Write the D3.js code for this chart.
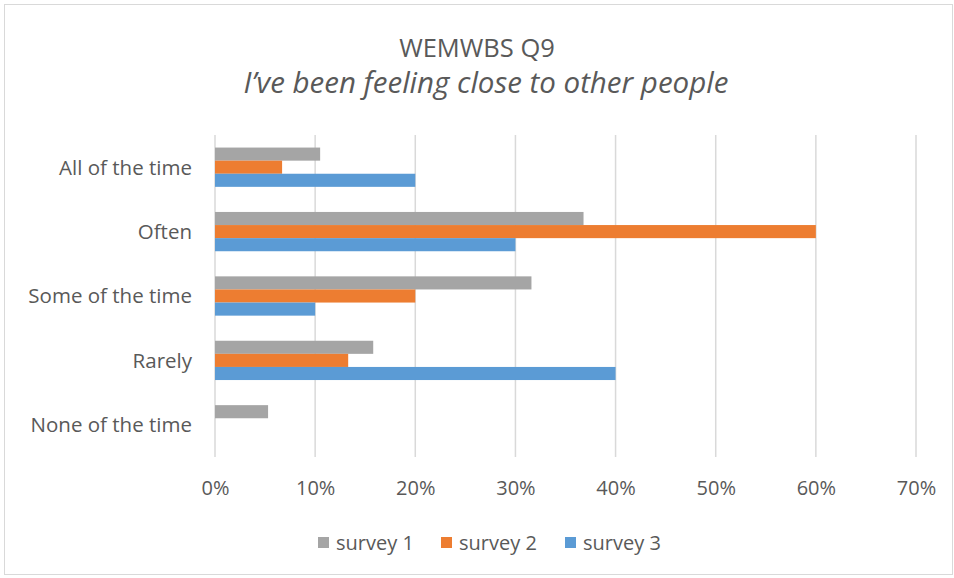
<!DOCTYPE html>
<html>
<head>
<meta charset="utf-8">
<script src="https://cdn.jsdelivr.net/npm/d3@7"></script>
<style>
  html, body { margin: 0; padding: 0; background: #fff; }
  svg { display: block; font-family: "Open Sans", Lato, sans-serif; }
</style>
</head>
<body>
<svg id="chart" width="954" height="578"></svg>
<script>
// Response categories, top to bottom
const categories = ["All of the time", "Often", "Some of the time", "Rarely", "None of the time"];
const seriesNames = ["survey 1", "survey 2", "survey 3"];
const seriesColors = ["#A5A5A5", "#ED7D31", "#5B9BD5"];
// Share of responses per category (%)
const survey1 = [10.5, 36.8, 31.6, 15.8, 5.3];
const survey2 = [6.7, 60.0, 20.0, 13.3, 0];
const survey3 = [20.0, 30.0, 10.0, 40.0, 0];
const tickValues = [0, 10, 20, 30, 40, 50, 60, 70];

const seriesValues = [survey1, survey2, survey3];
const W = 954, H = 578;
const svg = d3.select("#chart");
const textColor = "#595959";
const font = "'Open Sans', Lato, sans-serif";

// outer frame
svg.append("rect")
  .attr("x", 4.5).attr("y", 4.5)
  .attr("width", W - 6).attr("height", H - 8)
  .attr("fill", "#fff").attr("stroke", "#d9d9d9").attr("stroke-width", 1);

// titles
svg.append("text")
  .attr("x", 477).attr("y", 57)
  .attr("text-anchor", "middle")
  .attr("fill", textColor).attr("font-size", 25.5)
  .text("WEMWBS Q9");
svg.append("text")
  .attr("x", 486).attr("y", 93)
  .attr("text-anchor", "middle")
  .attr("fill", textColor).attr("font-size", 29.5)
  .attr("font-style", "italic")
  .text("I\u2019ve been feeling close to other people");

const margin = { left: 215, right: 38, top: 135, bottom: 121 };
const x = d3.scaleLinear().domain([0, 70]).range([margin.left, W - margin.right]);
const y = d3.scaleBand().domain(categories).range([margin.top, H - margin.bottom]).paddingInner(0.39).paddingOuter(0.195);
const ySub = d3.scaleBand().domain(seriesNames).range([0, y.bandwidth()]);

// vertical gridlines
svg.append("g")
  .selectAll("line")
  .data(tickValues)
  .join("line")
  .attr("x1", d => x(d)).attr("x2", d => x(d))
  .attr("y1", margin.top).attr("y2", H - margin.bottom)
  .attr("stroke", "#d9d9d9").attr("stroke-width", 1.5);

// bars
const groups = svg.append("g")
  .selectAll("g")
  .data(categories)
  .join("g")
  .attr("transform", d => `translate(0,${y(d)})`);

groups.selectAll("rect")
  .data((c, i) => seriesNames.map((s, j) => ({ s, j, v: seriesValues[j][i] })))
  .join("rect")
  .attr("x", x(0))
  .attr("y", d => ySub(d.s))
  .attr("width", d => x(d.v) - x(0))
  .attr("height", ySub.bandwidth())
  .attr("fill", d => seriesColors[d.j]);

// category axis labels
const yAxis = d3.axisLeft(y).tickSize(0).tickPadding(23);
const yg = svg.append("g").attr("transform", `translate(${margin.left},0)`).call(yAxis);
yg.select(".domain").remove();
yg.selectAll("text").attr("fill", textColor).attr("font-size", 20.5)
  .attr("font-family", font).attr("dy", "0.36em");

// value axis labels
const xAxis = d3.axisBottom(x).tickValues(tickValues).tickSize(0).tickPadding(24).tickFormat(d => d + "%");
const xg = svg.append("g").attr("transform", `translate(0,${H - margin.bottom})`).call(xAxis);
xg.select(".domain").remove();
xg.selectAll("text").attr("fill", textColor).attr("font-size", 20)
  .attr("font-family", font);

// legend
const legendX = [318, 441, 565];
const legend = svg.append("g")
  .selectAll("g")
  .data(seriesNames)
  .join("g")
  .attr("transform", (d, i) => `translate(${legendX[i]},537)`);
legend.append("rect")
  .attr("width", 11).attr("height", 11)
  .attr("fill", (d, i) => seriesColors[i]);
legend.append("text")
  .attr("x", 18).attr("y", 12.5)
  .attr("fill", textColor).attr("font-size", 20)
  .text(d => d);
</script>
</body>
</html>
